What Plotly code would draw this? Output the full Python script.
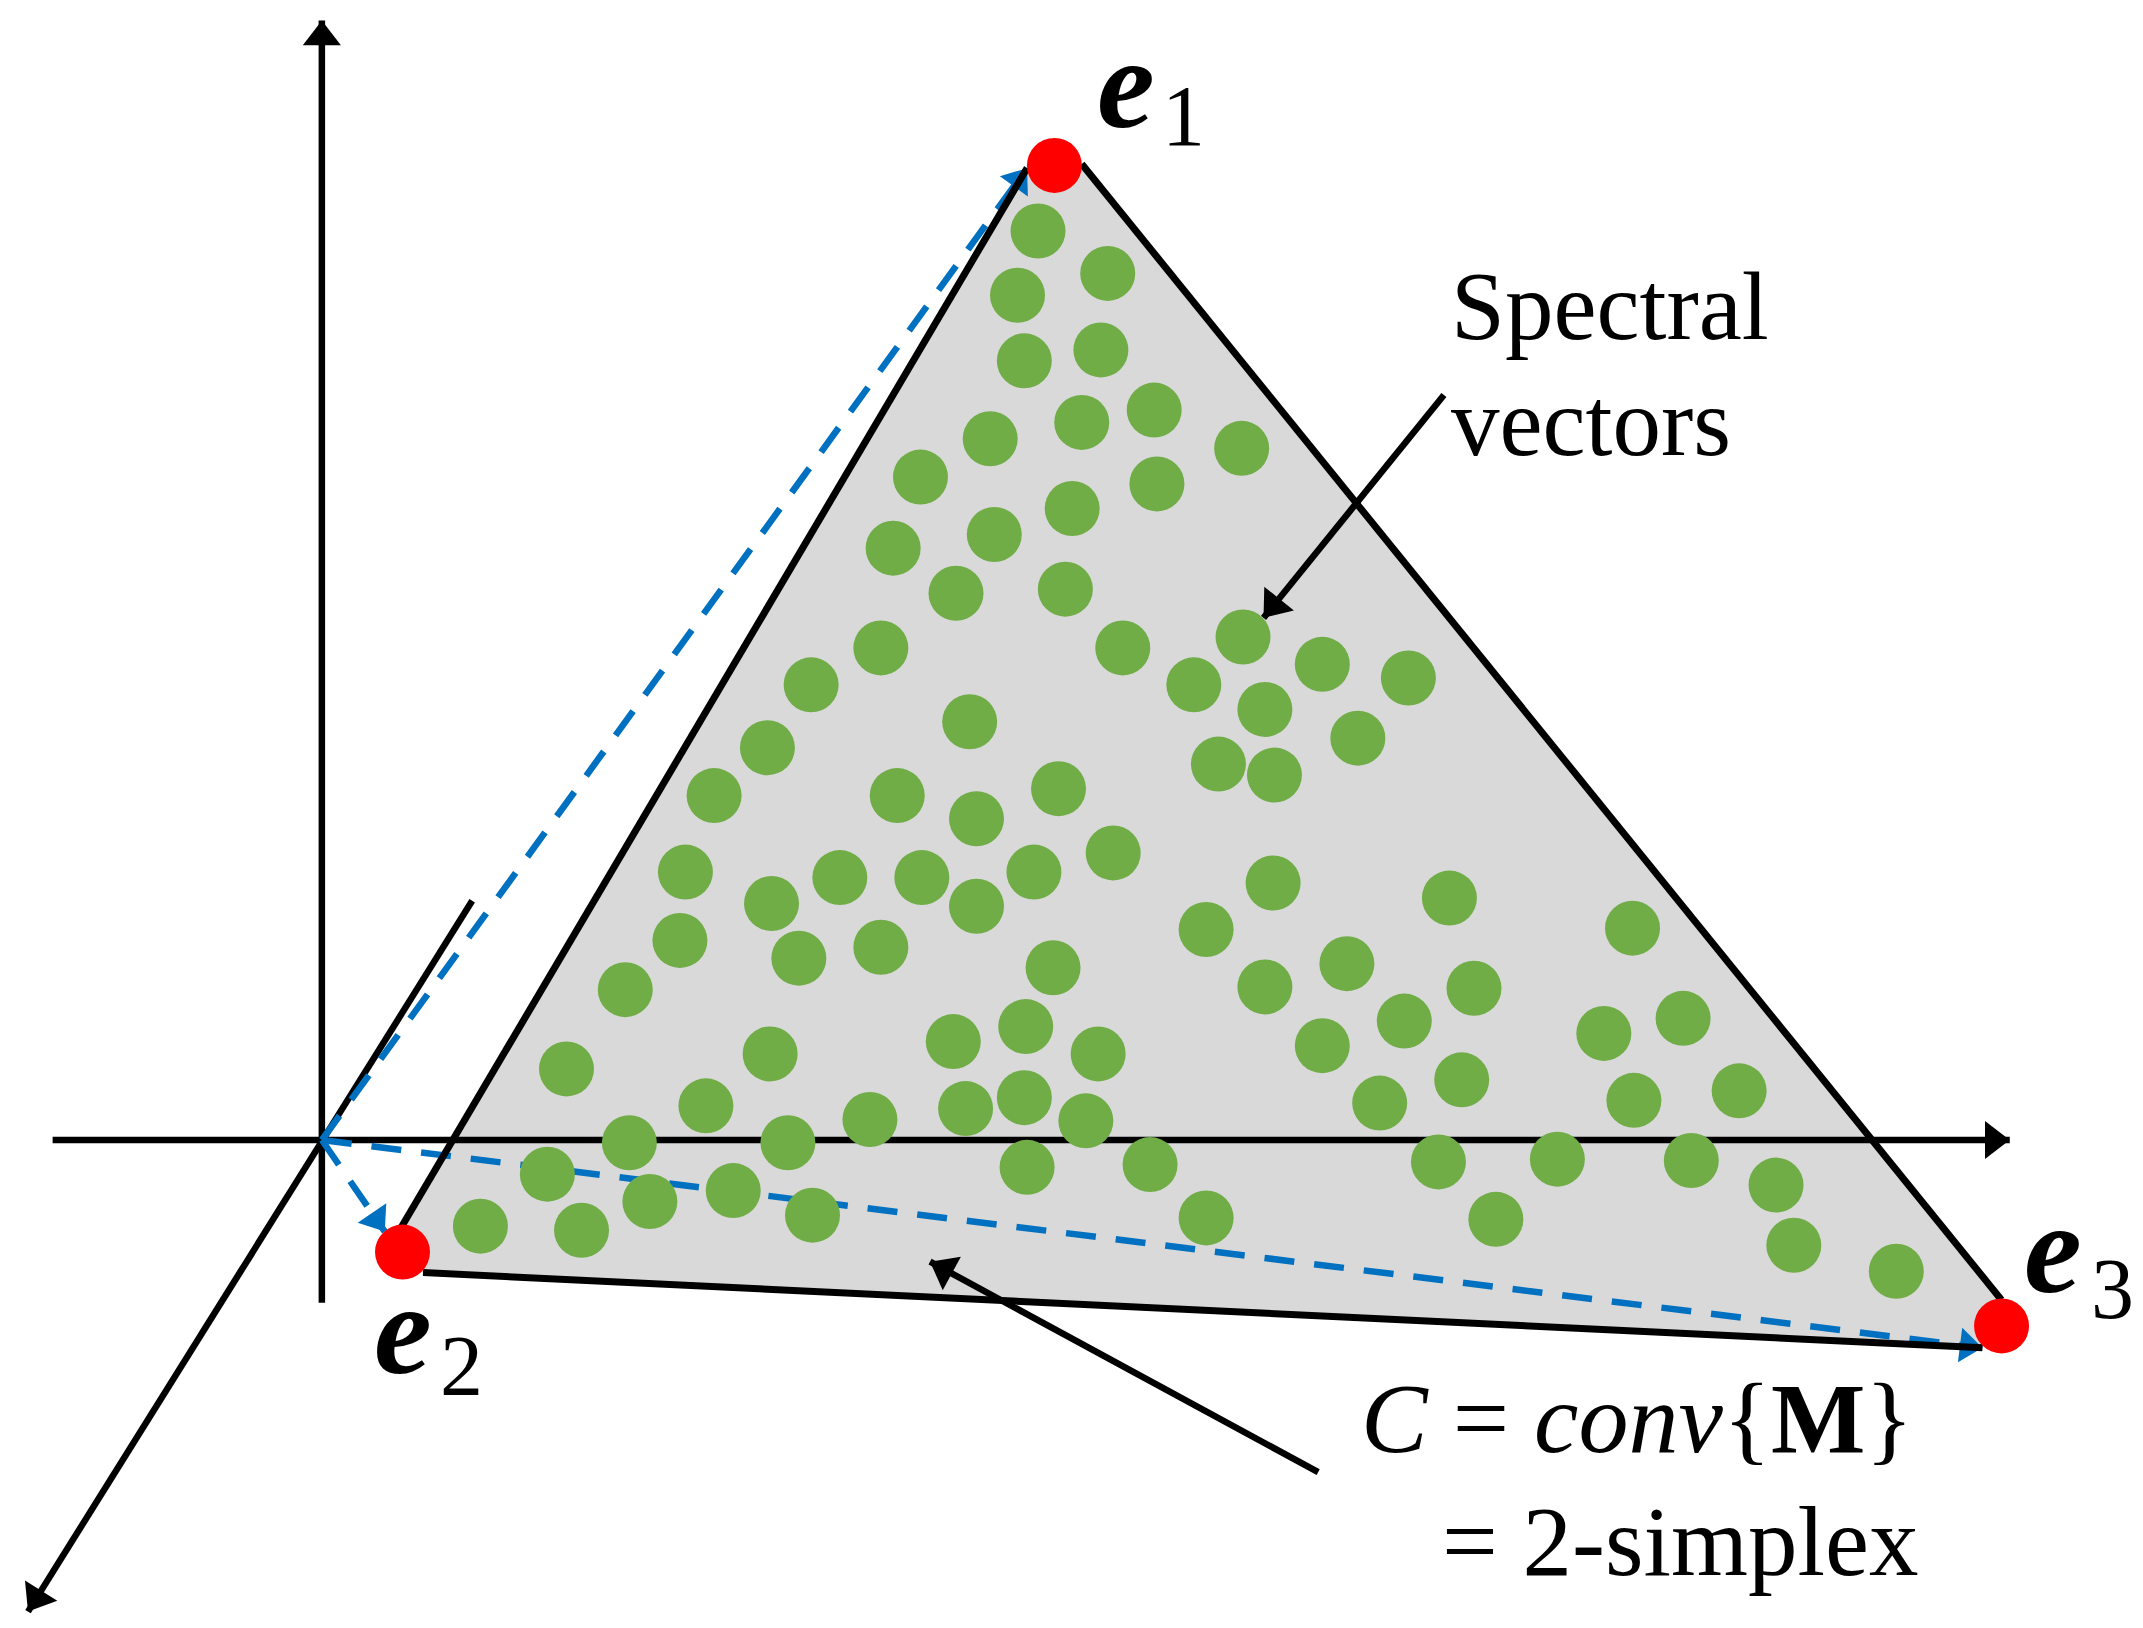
#!/usr/bin/env python3
"""
2-simplex diagram: spectral vectors inside the convex hull of e1, e2, e3
"""

import math
import plotly.graph_objects as go

# picture coordinates, y grows downwards
green_x = [759, 810, 744, 805, 749, 844, 791, 724, 908, 673, 846, 784, 727, 653, 699, 779, 644, 821, 909, 967, 1030, 873,
           593, 925, 709, 561, 993, 891, 932, 522, 656, 774, 714, 814, 501, 614, 674, 756, 564, 714, 931, 1060, 882, 1194,
           497, 644, 584, 985, 770, 457, 925, 1078, 1027, 1231, 750, 1173, 697, 967, 563, 803, 414, 1069, 1272, 749, 1195,
           516, 706, 1009, 794, 636, 460, 576, 1237, 1139, 1052, 841, 751, 400, 1299, 536, 475, 594, 882, 1094, 351, 425,
           1312, 1387]
green_y = [168, 199, 215, 255, 263, 299, 308, 320, 327, 348, 353, 371, 390, 400, 433, 430, 473, 473, 465, 485, 495, 500,
           500, 518, 527, 546, 539, 558, 566, 581, 581, 576, 598, 623, 637, 641, 641, 637, 660, 662, 645, 656, 679, 678,
           687, 692, 700, 704, 707, 723, 721, 722, 746, 744, 750, 755, 761, 764, 770, 770, 781, 789, 797, 802, 804,
           808, 810, 806, 819, 818, 835, 835, 848, 847, 849, 851, 853, 858, 866, 870, 878, 888, 890, 891, 896, 899,
           910, 929]

vertex_x = [771, 294, 1464]
vertex_y = [120, 915, 969]

hull_x = [293, 751, 791, 1464, 1450, 309]
hull_y = [897, 122, 119, 950, 985, 930]

# start and tip of each arrow
axis_arrows = [((235, 952), (235, 14)), ((38, 833), (1470, 833)), ((345, 658), (20, 1178))]
blue_arrows = [((235, 833), (751, 122)), ((235, 833), (281, 900)), ((235, 833), (1450, 985))]
edge_lines = [((293, 897), (751, 122)), ((791, 119), (1464, 950)), ((309, 930), (1450, 985))]
note_arrows = [((1056, 288), (924, 451)), ((964, 1076), (680, 922))]

BLACK = "#000000"
BLUE = "#0070C0"
GREEN = "#70AD47"
RED = "#FF0000"
GRAY = "#D9D9D9"
SERIF = "Liberation Serif"

fig = go.Figure()


def add_line(start, end, color, width, dash="solid"):
    fig.add_trace(go.Scatter(x=[start[0], end[0]], y=[start[1], end[1]], mode="lines",
                             line=dict(color=color, width=width, dash=dash), hoverinfo="skip"))


def add_head(start, end, color, size):
    """triangle marker whose tip sits on the end of the line"""
    dx, dy = end[0] - start[0], end[1] - start[1]
    length = math.hypot(dx, dy)
    back = size / 2 / 1.367
    fig.add_trace(go.Scatter(x=[end[0] - dx / length * back], y=[end[1] - dy / length * back], mode="markers",
                             marker=dict(symbol="triangle-up", size=size, color=color,
                                         angle=math.degrees(math.atan2(dx, -dy))),
                             hoverinfo="skip"))


def add_text(x, y, text, size, anchor="left"):
    fig.add_annotation(x=x, y=y, text=text, showarrow=False, xanchor=anchor, yanchor="middle",
                       font=dict(family=SERIF, size=size, color=BLACK))


# gray simplex goes first so everything else sits on it
fig.add_trace(go.Scatter(x=hull_x + hull_x[:1], y=hull_y + hull_y[:1], mode="lines", fill="toself",
                         fillcolor=GRAY, line=dict(width=0), hoverinfo="skip"))

for start, end in axis_arrows:
    add_line(start, end, BLACK, 6.5)
    add_head(start, end, BLACK, 33)

for start, end in blue_arrows:
    add_line(start, end, BLUE, 6.5, dash="30px,20px")
    add_head(start, end, BLUE, 30)

for start, end in edge_lines:
    add_line(start, end, BLACK, 7)

fig.add_trace(go.Scatter(x=green_x, y=green_y, mode="markers", marker=dict(color=GREEN, size=55), hoverinfo="skip"))
fig.add_trace(go.Scatter(x=vertex_x, y=vertex_y, mode="markers", marker=dict(color=RED, size=55), hoverinfo="skip"))

for start, end in note_arrows:
    add_line(start, end, BLACK, 6.5)
    add_head(start, end, BLACK, 33)

# vertex labels
add_text(801, 60, "<b><i>e</i></b>", 130)
add_text(848, 84, "1", 86)
add_text(272, 971, "<b><i>e</i></b>", 130)
add_text(320, 998, "2", 86)
add_text(1479, 912, "<b><i>e</i></b>", 130)
add_text(1528, 942, "3", 86)

# notes
add_text(1060, 223, "Spectral", 97)
add_text(1060, 308, "vectors", 97)
add_text(994, 1037, "<i>C</i> = <i>conv</i>{<b>M</b>}", 100)
add_text(1053, 1127, "= 2-simplex", 99)

fig.update_xaxes(range=[-0.5, 1567.5], visible=False)
fig.update_yaxes(range=[1190, -1], visible=False)
fig.update_layout(width=2143, height=1628, margin=dict(l=0, r=0, t=0, b=0), showlegend=False,
                  plot_bgcolor="white", paper_bgcolor="white")

fig.write_html("out.html", config=dict(displayModeBar=False), post_script="document.body.style.margin='0';")
